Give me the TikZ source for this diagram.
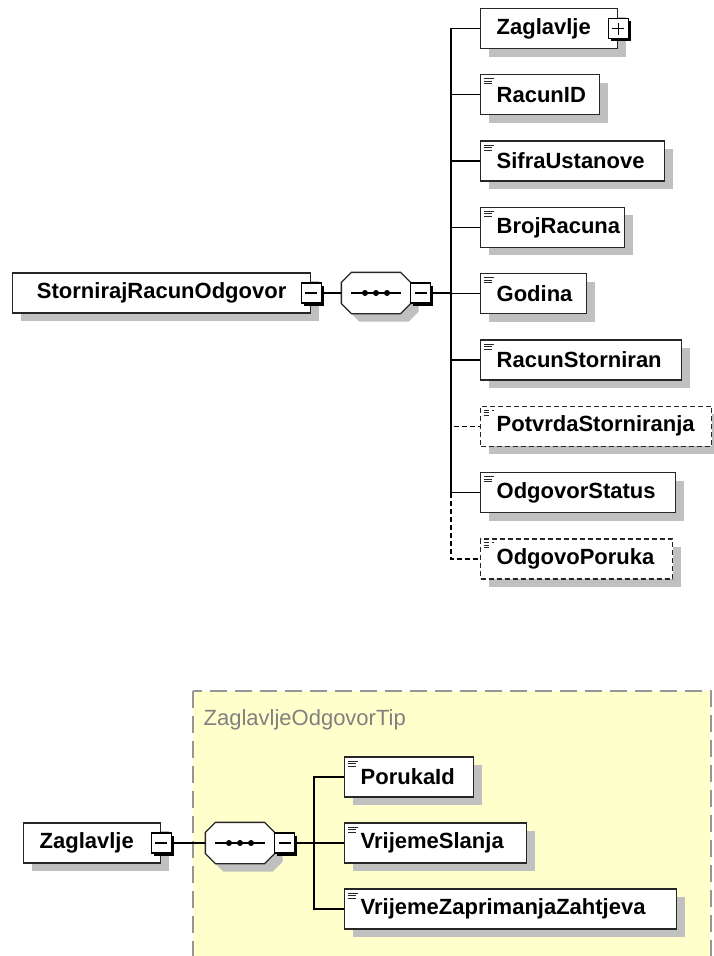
\documentclass[tikz,border=0pt]{standalone}
\usepackage{fontspec}
\setmainfont{Liberation Sans}
\usetikzlibrary{shadows, positioning}
\definecolor{shadowgray}{RGB}{192,192,192}
\definecolor{typeyellow}{RGB}{255,255,204}
\definecolor{typeborder}{RGB}{150,150,150}
\definecolor{typetext}{RGB}{128,128,128}

\begin{document}
\begin{tikzpicture}[x=1pt, y=-1pt, line width=1.3pt,
    elem/.style={draw=black!85, fill=white, anchor=west, minimum height=40pt, inner xsep=16pt, inner ysep=0pt,
        align=left, font=\fontsize{22}{24}\selectfont\bfseries,
        drop shadow={shadow xshift=8pt, shadow yshift=-8pt, fill=shadowgray, opacity=1}},
    leaf/.style={elem, path picture={
        \draw[line width=1pt] ([xshift=3pt,yshift=-4pt]path picture bounding box.north west) -- +(10,0);
        \draw[line width=1pt] ([xshift=3pt,yshift=-6.5pt]path picture bounding box.north west) -- +(8,0);
        \draw[line width=1pt] ([xshift=3pt,yshift=-9pt]path picture bounding box.north west) -- +(8,0);}},
    opt/.style={dash pattern=on 5pt off 3pt},
    tog/.style={draw=black, fill=white, minimum size=20pt, inner sep=0pt, line width=1.2pt,
        drop shadow={shadow xshift=2.5pt, shadow yshift=-2.5pt, fill=black, opacity=1},
        path picture={\draw[line width=1.2pt] ([xshift=4pt]path picture bounding box.west) -- ([xshift=-4pt]path picture bounding box.east);}},
    plustog/.style={tog, path picture={
        \draw[line width=1.2pt] ([xshift=4pt]path picture bounding box.west) -- ([xshift=-4pt]path picture bounding box.east);
        \draw[line width=1.2pt] ([yshift=4pt]path picture bounding box.south) -- ([yshift=-4pt]path picture bounding box.north);}},
    seqslot/.style={minimum width=68pt, minimum height=40pt, inner sep=0pt},
    octpath/.style={insert path={([xshift=10pt]#1.north west) -- ([xshift=-10pt]#1.north east)
        -- ([yshift=-10pt]#1.north east) -- ([yshift=10pt]#1.south east) -- ([xshift=-10pt]#1.south east)
        -- ([xshift=10pt]#1.south west) -- ([yshift=10pt]#1.south west) -- ([yshift=-10pt]#1.north west) -- cycle}}]
    \useasboundingbox (0,0) rectangle (713,956);

    % ZaglavljeOdgovorTip background
    \draw[draw=typeborder, fill=typeyellow, line width=1.5pt, dash pattern=on 17pt off 8pt] (193,691) rectangle (711,990);
    \node[anchor=base west, inner sep=0pt, text=typetext, font=\fontsize{22}{24}\selectfont] (tiptitle) at (203,725) {ZaglavljeOdgovorTip};

    % sequence compositors
    \node[seqslot] (seq) at (376,293) {};
    \node[seqslot] (hdrseq) at (240,843) {};
    \foreach \s in {seq,hdrseq} {
        \fill[shadowgray, transform canvas={shift={(8pt,-8pt)}}] [octpath=\s];
        \draw[draw=black!85, fill=white] [octpath=\s];
        \draw[line width=1.2pt] ([xshift=10pt]\s.west) -- ([xshift=-10pt]\s.east);
        \foreach \d in {-11,0,11}
            \fill ([xshift=\d pt]\s.center) circle (3pt);
    }

    % StornirajRacunOdgovor
    \node[elem, text width=266pt, align=center] (root) at (12,293) {StornirajRacunOdgovor};
    \node[tog] (roottog) at (root.east) {};
    \node[tog] (seqtog) at ([xshift=10pt]seq.east) {};
    \coordinate (bus) at (451,293);

    \node[elem, text width=105pt] (zag) at (480,28.5) {Zaglavlje};
    \node[plustog] (zagtog) at (zag.east) {};
    \node[leaf, text width=87pt] (racunid) at (480,94.8) {RacunID};
    \node[leaf, text width=152pt] (sifra) at (480,161.1) {SifraUstanove};
    \node[leaf, text width=112pt] (broj) at (480,227.4) {BrojRacuna};
    \node[leaf, text width=74pt] (godina) at (480,293.7) {Godina};
    \node[leaf, text width=169pt] (storniran) at (480,360) {RacunStorniran};
    \node[leaf, opt, text width=199pt] (potvrda) at (480,426.3) {PotvrdaStorniranja};
    \node[leaf, text width=163pt] (status) at (480,492.6) {OdgovorStatus};
    \node[leaf, opt, text width=160pt] (poruka) at (480,558.9) {OdgovoPoruka};

    \draw (roottog) -- (seq);
    \draw (seqtog) -- (bus);
    \foreach \c in {zag,racunid,sifra,broj,godina,storniran,status}
        \draw (bus) |- (\c.west);
    \draw[opt] (bus) |- (potvrda.west);
    \draw[opt] (bus) |- (poruka.west);

    % Zaglavlje
    \node[elem, text width=105pt] (hdr) at (23,843) {Zaglavlje};
    \node[tog] (hdrtog) at (hdr.east) {};
    \node[tog] (hdrseqtog) at ([xshift=10pt]hdrseq.east) {};
    \coordinate (hdrbus) at (314,843);

    \node[leaf, text width=97pt] (porukaid) at (344,777) {PorukaId};
    \node[leaf, text width=150pt] (slanja) at (344,843) {VrijemeSlanja};
    \node[leaf, text width=300pt] (zaprimanja) at (344,909) {VrijemeZaprimanjaZahtjeva};

    \draw (hdrtog) -- (hdrseq);
    \draw (hdrseqtog) -- (hdrbus);
    \foreach \c in {porukaid,slanja,zaprimanja}
        \draw (hdrbus) |- (\c.west);
\end{tikzpicture}
\end{document}
